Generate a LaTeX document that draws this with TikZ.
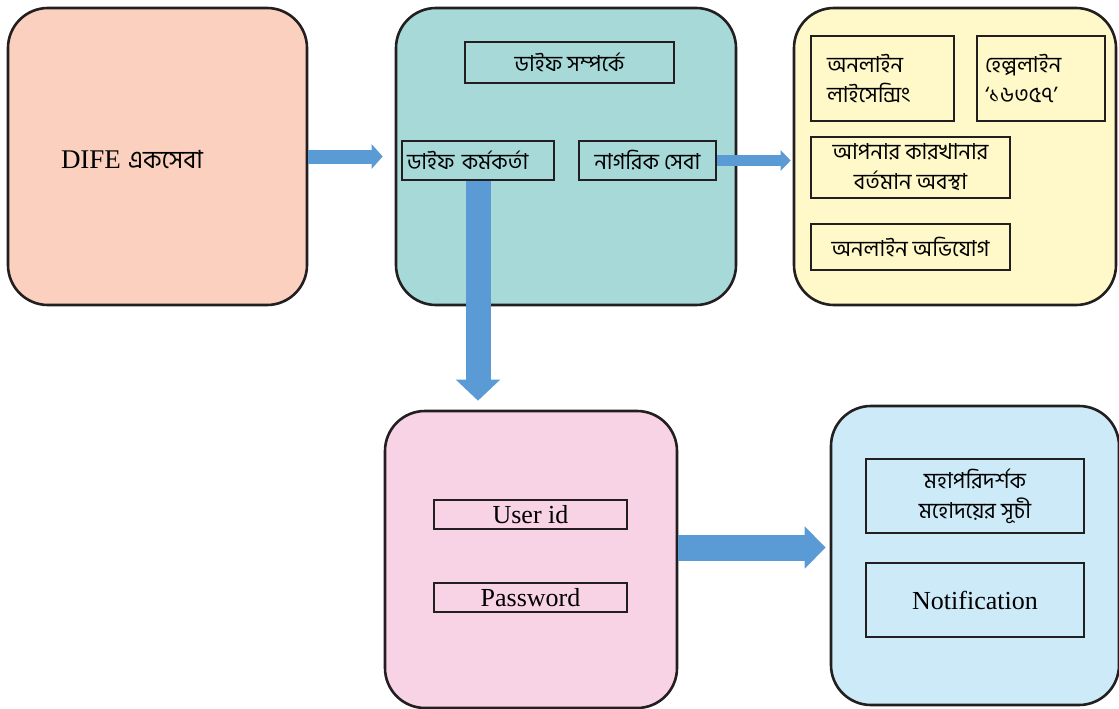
\documentclass[tikz,border=0pt]{standalone}
\usepackage{fontspec}
\setmainfont{Liberation Serif}
\newfontfamily\bn[Script=Bengali]{Hind Siliguri}
\usetikzlibrary{arrows.meta}
\definecolor{peach}{HTML}{FBD0BE}
\definecolor{teal}{HTML}{A6D9D8}
\definecolor{cream}{HTML}{FFF9C9}
\definecolor{pinkish}{HTML}{F8D3E5}
\definecolor{skyish}{HTML}{CDEAF8}
\definecolor{arrowblue}{HTML}{5B9BD5}
\definecolor{edge}{HTML}{231F20}

\begin{document}
\begin{tikzpicture}[x=1pt,y=-1pt,
  bigbox/.style={draw=edge,line width=2.6pt,rounded corners=40pt,inner sep=0pt},
  smallbox/.style={draw=edge,line width=1.2pt,inner sep=0pt,font=\bn\fontsize{22}{30}\selectfont,align=center},
  fatarrow/.style={arrowblue,line width=#1}]
  \useasboundingbox (0,0) rectangle (1119,709);
  % outer boxes
  \node[bigbox,fill=peach,minimum width=299pt,minimum height=297pt] (dife) at (157.5,156.5) {};
  \node[bigbox,fill=teal,minimum width=340pt,minimum height=297pt] (teal) at (566,156.5) {};
  \node[bigbox,fill=cream,minimum width=322pt,minimum height=297pt] (yellow) at (955,156.5) {};
  \node[bigbox,fill=pinkish,minimum width=292pt,minimum height=297pt] (pink) at (531,559.5) {};
  \node[bigbox,fill=skyish,minimum width=288pt,minimum height=299pt] (blue) at (975,555.5) {};
  \node[font=\fontsize{27}{30}\selectfont] (title) at (132,160) {DIFE {\bn\fontsize{25}{30}\selectfont একসেবা}};
  % teal box
  \node[smallbox,minimum width=209pt,minimum height=41pt] (about) at (569.5,62.5) {ডাইফ সম্পর্কে};
  \node[smallbox,minimum width=152pt,minimum height=39pt,text width=142pt,align=left] (officer) at (478,160.5) {ডাইফ কর্মকর্তা};
  \node[smallbox,minimum width=137pt,minimum height=39pt] (civic) at (647.5,160.5) {নাগরিক সেবা};
  % cream box
  \node[smallbox,minimum width=143pt,minimum height=85pt,text width=111pt,align=left] (licence) at (882.5,78.5) {অনলাইন\\লাইসেন্সিং};
  \node[smallbox,minimum width=128pt,minimum height=85pt,text width=112pt,align=left] (helpline) at (1041,78.5) {হেল্পলাইন\\‘১৬৩৫৭’};
  \node[smallbox,minimum width=199pt,minimum height=61pt] (status) at (910.5,167.5) {আপনার কারখানার\\বর্তমান অবস্থা};
  \node[smallbox,minimum width=199pt,minimum height=46pt] (complaint) at (910.5,247) {অনলাইন অভিযোগ};
  % pink box
  \node[smallbox,minimum width=193pt,minimum height=29pt,font=\fontsize{26}{28}\selectfont] (userid) at (530.5,514.5) {User id};
  \node[smallbox,minimum width=193pt,minimum height=29pt,font=\fontsize{26}{28}\selectfont] (password) at (530.5,597.5) {Password};
  % blue box
  \node[smallbox,minimum width=218pt,minimum height=74pt] (inspector) at (975,496) {মহাপরিদর্শক\\মহোদয়ের সূচী};
  \node[smallbox,minimum width=218pt,minimum height=74pt,font=\fontsize{26}{28}\selectfont] (notif) at (975,600) {Notification};
  % arrows
  \draw[fatarrow=14pt,-{Triangle[width=24pt,length=11pt]},shorten >=12pt] (dife.east) -- (dife.east -| teal.west);
  \draw[fatarrow=11pt,-{Triangle[width=20pt,length=10pt]},shorten >=2pt] (civic.east) -- (civic.east -| yellow.west);
  \draw[fatarrow=25pt,-{Triangle[width=43pt,length=21pt]},shorten >=9pt] (officer.south) -- (officer.south |- pink.north);
  \draw[fatarrow=26pt,-{Triangle[width=41pt,length=21pt]},shorten >=4pt] ([yshift=12pt]pink.east) -- ([yshift=12pt]pink.east -| blue.west);
\end{tikzpicture}
\end{document}
